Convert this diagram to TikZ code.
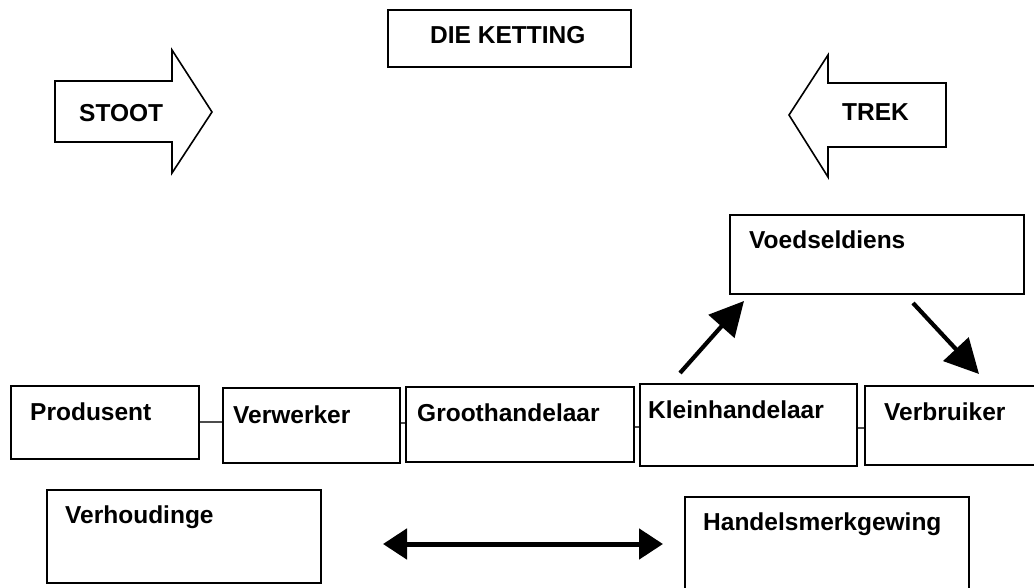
\documentclass[tikz,border=0pt]{standalone}
\usepackage{fontspec}
\setmainfont{Liberation Sans}
\usetikzlibrary{arrows.meta,calc}
\tikzset{
  box/.style={draw, line width=1.8pt, inner sep=0pt, anchor=north west},
  lbl/.style={anchor=base west, inner sep=0pt, font=\fontsize{24.5}{28}\selectfont\bfseries},
  link/.style={draw=black!70, line width=2pt},
  bigarrow/.style={draw, line width=1.6pt, line join=miter, fill=white},
  thickarrow/.style={line width=4.2pt, -{Triangle[length=34pt,width=34pt]}},
  dblarrow/.style={line width=5pt, {Triangle[length=24pt,width=30pt]}-{Triangle[length=24pt,width=30pt]}}
}
\newcommand{\bx}[5]{\node[box, minimum width=#4pt-#2pt, minimum height=#5pt-#3pt] (#1) at (#2,#3) {};}
\begin{document}
\begin{tikzpicture}[x=1pt,y=-1pt]
\useasboundingbox (0,0) rectangle (1034,587);

% title
\bx{ket}{387}{9}{630}{66}
\node[lbl] (ketl) at (430,43) {DIE KETTING};

% STOOT / TREK arrows
\draw[bigarrow] (55,81) -- (172,81) -- (172,50) -- (212,112) -- (172,173) -- (172,142) -- (55,142) -- cycle;
\node[lbl] (stoot) at (79,121) {STOOT};
\draw[bigarrow] (946,83) -- (828,83) -- (828,55) -- (789,115) -- (828,177) -- (828,147) -- (946,147) -- cycle;
\node[lbl] (trek) at (842,120) {TREK};

% Voedseldiens
\bx{voed}{729}{214}{1023}{293}
\node[lbl] (voedl) at (749,248) {Voedseldiens};

% chain row
\bx{prod}{10}{385}{198}{458}
\bx{verw}{222}{387}{399}{462}
\bx{groot}{405}{386}{633}{461}
\bx{klein}{639}{383}{856}{465}
\bx{verb}{864}{385}{1045}{464}
\node[lbl] (prodl) at (30,420) {Produsent};
\node[lbl] (verwl) at (233,423) {Verwerker};
\node[lbl] (grootl) at (417,421) {Groothandelaar};
\node[lbl] (kleinl) at (648,418) {Kleinhandelaar};
\node[lbl] (verbl) at (884,420) {Verbruiker};

\draw[link] (prod.east) -- (prod.east -| verw.west);
\draw[link] ([yshift=2pt]verw.east) -- ([yshift=2pt]verw.east -| groot.west);
\draw[link] ([yshift=-3pt]groot.east) -- ([yshift=-3pt]groot.east -| klein.west);
\draw[link] ([yshift=-3pt]klein.east) -- ([yshift=-3pt]klein.east -| verb.west);

% arrows to / from Voedseldiens
\coordinate (k1) at (680,373);
\coordinate (k2) at (744,301);
\coordinate (v1) at (913,303);
\coordinate (v2) at (979,374);
\draw[thickarrow] (k1) -- (k2);
\draw[thickarrow] (v1) -- (v2);

% bottom boxes
\bx{verh}{46}{489}{320}{582}
\node[lbl] (verhl) at (65,523) {Verhoudinge};
\bx{hand}{684}{496}{968}{600}
\node[lbl] (handl) at (703,530) {Handelsmerkgewing};

\coordinate (d1) at (383,544);
\coordinate (d2) at (663,544);
\draw[dblarrow] (d1) -- (d2);
\end{tikzpicture}
\end{document}
